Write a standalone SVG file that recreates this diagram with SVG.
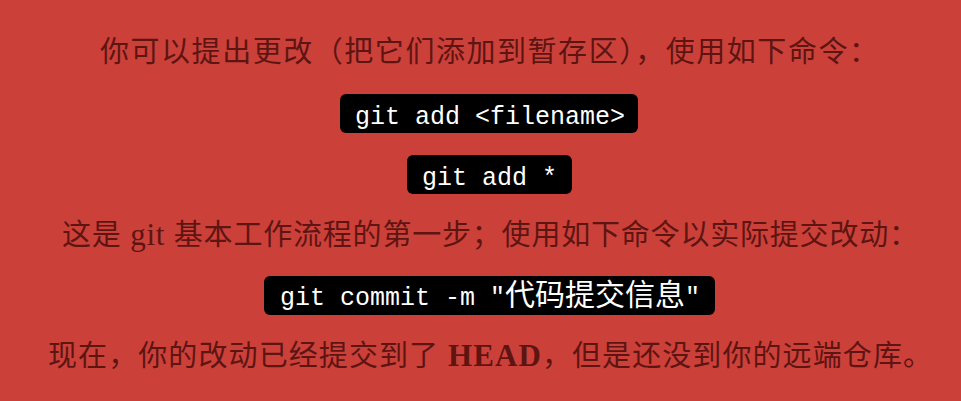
<svg xmlns="http://www.w3.org/2000/svg" width="961" height="401" viewBox="0 0 961 401">
  <style>
    .body { font-family: "Liberation Serif", "Noto Sans CJK SC", serif; font-size: 29px; fill: #5e1512; }
    .cjk { font-family: "Noto Sans CJK SC", "Liberation Serif", sans-serif; }
    .lat { font-family: "Liberation Serif", serif; font-size: 31px; }
    .box { fill: #000000; }
    .code { font-family: "Liberation Mono", "Noto Sans CJK SC", monospace; font-size: 25px; fill: #ffffff; }
    .codecjk { font-family: "Noto Sans CJK SC", sans-serif; font-size: 30px; }
  </style>
  <rect x="0" y="0" width="961" height="401" fill="#cc403a"/>

  <g id="line1">
    <text class="body cjk" x="100" y="62" textLength="778" lengthAdjust="spacing">你可以提出更改（把它们添加到暂存区），使用如下命令：</text>
  </g>

  <g id="cmd-add-file">
    <rect class="box" x="340" y="94" width="298" height="39" rx="6"/>
    <text class="code" x="355" y="124" textLength="270" lengthAdjust="spacing">git add &lt;filename&gt;</text>
  </g>

  <g id="cmd-add-all">
    <rect class="box" x="407" y="155" width="165" height="39" rx="6"/>
    <text class="code" x="422" y="185">git add *</text>
  </g>

  <g id="line3">
    <text class="body" x="62" y="245" textLength="856" lengthAdjust="spacing"><tspan class="cjk">这是</tspan><tspan class="lat"> git </tspan><tspan class="cjk">基本工作流程的第一步；使用如下命令以实际提交改动：</tspan></text>
  </g>

  <g id="cmd-commit">
    <rect class="box" x="264" y="276" width="451" height="39" rx="6"/>
    <text class="code" x="280" y="305" textLength="420" lengthAdjust="spacing">git commit -m "<tspan class="codecjk">代码提交信息</tspan>"</text>
  </g>

  <g id="line5">
    <text class="body" x="48" y="366" textLength="884" lengthAdjust="spacing"><tspan class="cjk">现在，你的改动已经提交到了</tspan><tspan class="lat" font-weight="bold"> HEAD</tspan><tspan class="cjk">，但是还没到你的远端仓库。</tspan></text>
  </g>
</svg>
